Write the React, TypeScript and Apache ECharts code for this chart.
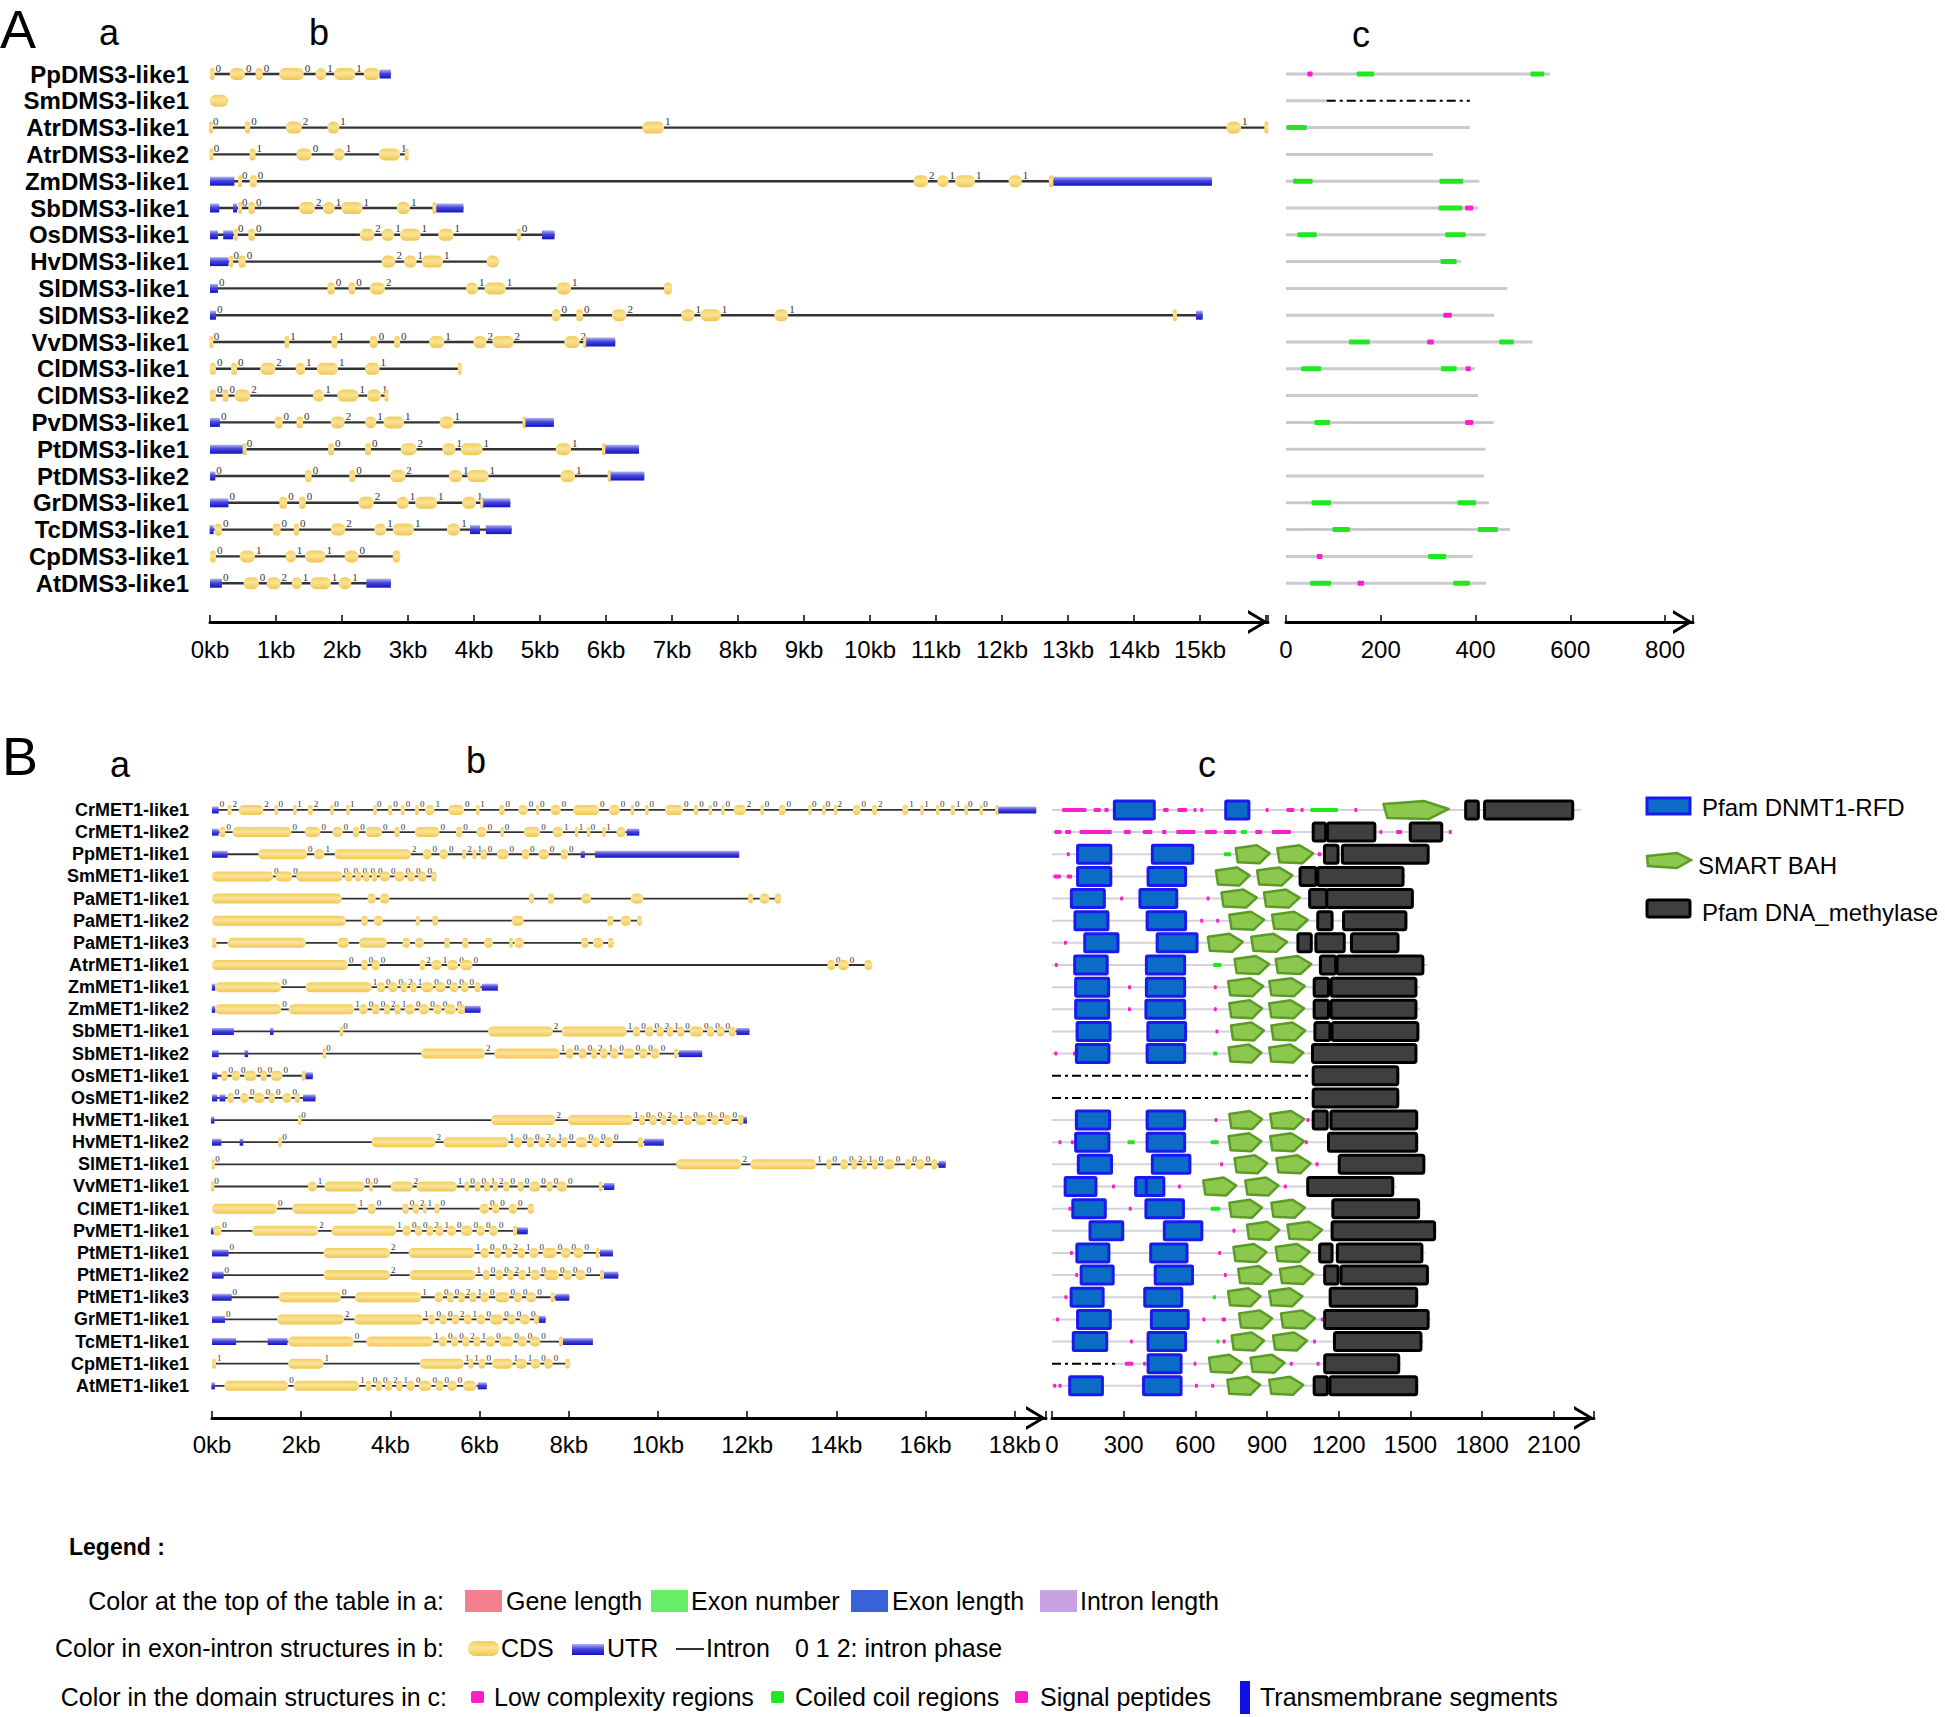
import React, { useEffect, useRef } from 'react';
import * as echarts from 'echarts';

const FONT = 'Liberation Sans, Arial, sans-serif';

// ---------- Panel A : DMS3 ----------
const dmsNames = ['PpDMS3-like1','SmDMS3-like1','AtrDMS3-like1','AtrDMS3-like2','ZmDMS3-like1','SbDMS3-like1','OsDMS3-like1','HvDMS3-like1','SlDMS3-like1','SlDMS3-like2','VvDMS3-like1','ClDMS3-like1','ClDMS3-like2','PvDMS3-like1','PtDMS3-like1','PtDMS3-like2','GrDMS3-like1','TcDMS3-like1','CpDMS3-like1','AtDMS3-like1'];

// exon: [start kb, end kb, type (0 CDS, 1 UTR), intron phase after it (-1 none)]
const dmsExons: number[][][] = [
  [[0,0.07,0,0],[0.30,0.53,0,0],[0.69,0.80,0,0],[1.05,1.42,0,0],[1.60,1.76,0,1],[1.88,2.20,0,1],[2.33,2.57,0,-1],[2.57,2.74,1,-1]],
  [[0,0.27,0,-1]],
  [[0,0.03,0,0],[0.53,0.61,0,0],[1.15,1.39,0,2],[1.78,1.96,0,1],[6.55,6.88,0,1],[15.40,15.62,0,1],[15.98,16.03,0,-1]],
  [[0,0.04,0,0],[0.60,0.69,0,1],[1.31,1.54,0,0],[1.87,2.04,0,1],[2.56,2.88,0,1],[2.96,3.0,0,-1]],
  [[0,0.37,1,-1],[0.44,0.47,0,0],[0.60,0.71,0,0],[10.66,10.88,0,2],[11.02,11.19,0,1],[11.29,11.59,0,1],[12.10,12.30,0,1],[12.71,12.78,0,-1],[12.78,15.18,1,-1]],
  [[0,0.14,1,-1],[0.35,0.41,1,-1],[0.44,0.47,0,0],[0.58,0.68,0,0],[1.35,1.59,0,2],[1.71,1.89,0,1],[1.99,2.31,0,1],[2.83,3.03,0,1],[3.37,3.43,0,-1],[3.43,3.84,1,-1]],
  [[0,0.12,1,-1],[0.20,0.35,1,-1],[0.37,0.41,0,0],[0.58,0.68,0,0],[2.27,2.49,0,2],[2.60,2.79,0,1],[2.88,3.19,0,1],[3.46,3.69,0,1],[4.65,4.71,0,0],[5.03,5.22,1,-1]],
  [[0,0.28,1,-1],[0.30,0.34,0,0],[0.43,0.54,0,0],[2.60,2.81,0,2],[2.94,3.13,0,1],[3.21,3.53,0,1],[4.19,4.38,0,-1]],
  [[0,0.12,1,0],[1.78,1.89,0,0],[2.10,2.20,0,0],[2.42,2.65,0,2],[3.88,4.06,0,1],[4.16,4.48,0,1],[5.25,5.47,0,1],[6.88,7.0,0,-1]],
  [[0,0.09,1,0],[5.18,5.31,0,0],[5.55,5.65,0,0],[6.09,6.31,0,2],[7.14,7.34,0,1],[7.43,7.74,0,1],[8.55,8.76,0,1],[14.60,14.64,0,-1],[14.94,15.04,1,-1]],
  [[0,0.04,0,0],[1.13,1.20,0,1],[1.84,1.93,0,1],[2.42,2.54,0,0],[2.79,2.88,0,0],[3.32,3.55,0,1],[3.99,4.19,0,2],[4.28,4.60,0,2],[5.37,5.60,0,2],[5.67,5.70,0,-1],[5.70,6.14,1,-1]],
  [[0,0.09,0,0],[0.32,0.41,0,0],[0.76,0.99,0,2],[1.30,1.44,0,1],[1.62,1.94,0,1],[2.35,2.57,0,1],[3.77,3.80,0,-1]],
  [[0,0.09,0,0],[0.19,0.28,0,0],[0.37,0.61,0,2],[1.56,1.73,0,1],[1.93,2.25,0,1],[2.38,2.59,0,1],[2.66,2.69,0,-1]],
  [[0,0.15,1,0],[0.98,1.10,0,0],[1.31,1.41,0,0],[1.83,2.04,0,2],[2.35,2.52,0,1],[2.63,2.94,0,1],[3.48,3.69,0,1],[4.75,4.78,0,-1],[4.78,5.21,1,-1]],
  [[0,0.51,1,-1],[0.51,0.54,0,0],[1.79,1.88,0,0],[2.35,2.44,0,0],[2.89,3.13,0,2],[3.52,3.72,0,1],[3.80,4.13,0,1],[5.24,5.47,0,1],[5.95,5.99,0,-1],[5.99,6.50,1,-1]],
  [[0,0.08,1,0],[1.44,1.54,0,0],[2.11,2.20,0,0],[2.73,2.96,0,2],[3.62,3.82,0,1],[3.90,4.22,0,1],[5.31,5.53,0,1],[6.04,6.07,0,-1],[6.07,6.58,1,-1]],
  [[0,0.28,1,0],[1.05,1.17,0,0],[1.35,1.45,0,0],[2.25,2.48,0,2],[2.83,3.01,0,1],[3.11,3.44,0,1],[3.82,4.03,0,1],[4.11,4.14,0,-1],[4.14,4.55,1,-1]],
  [[0,0.05,1,-1],[0.07,0.18,0,0],[0.95,1.07,0,0],[1.27,1.35,0,0],[1.83,2.05,0,2],[2.49,2.67,0,1],[2.77,3.09,0,1],[3.59,3.79,0,1],[3.94,4.09,1,-1],[4.18,4.57,1,-1]],
  [[0,0.09,0,0],[0.45,0.68,0,1],[1.15,1.30,0,1],[1.44,1.75,0,1],[2.04,2.25,0,0],[2.77,2.88,0,-1]],
  [[0,0.18,1,0],[0.51,0.74,0,0],[0.86,1.07,0,2],[1.24,1.39,0,1],[1.52,1.83,0,1],[1.95,2.14,0,1],[2.37,2.74,1,-1]],
];

const dmsProteinLength = [557,86,388,310,408,406,421,369,467,439,520,399,405,438,421,418,428,473,394,422];

// domain: [start aa, end aa, type (0 low complexity, 1 coiled coil, 2 missing)]
const dmsDomains: number[][][] = [
  [[45,56,0],[149,186,1],[516,545,1]],
  [[86,388,2]],
  [[1,44,1]],
  [],
  [[15,56,1],[324,374,1]],
  [[322,372,1],[378,395,0]],
  [[24,65,1],[336,379,1]],
  [[326,360,1]],
  [],
  [[332,350,0]],
  [[133,177,1],[298,312,0],[450,481,1]],
  [[32,74,1],[327,360,1],[379,390,0]],
  [],
  [[60,93,1],[378,395,0]],
  [],
  [],
  [[54,95,1],[362,401,1]],
  [[98,135,1],[405,447,1]],
  [[65,77,0],[300,338,1]],
  [[51,95,1],[151,165,0],[353,388,1]],
];

// ---------- Panel B : MET1 ----------
const metNames = ['CrMET1-like1','CrMET1-like2','PpMET1-like1','SmMET1-like1','PaMET1-like1','PaMET1-like2','PaMET1-like3','AtrMET1-like1','ZmMET1-like1','ZmMET1-like2','SbMET1-like1','SbMET1-like2','OsMET1-like1','OsMET1-like2','HvMET1-like1','HvMET1-like2','SlMET1-like1','VvMET1-like1','ClMET1-like1','PvMET1-like1','PtMET1-like1','PtMET1-like2','PtMET1-like3','GrMET1-like1','TcMET1-like1','CpMET1-like1','AtMET1-like1'];

const metExons: number[][][] = [
  [[0,0.15,1,0],[0.35,0.44,0,2],[0.60,1.15,0,2],[1.41,1.47,0,0],[1.83,1.89,0,1],[2.15,2.26,0,2],[2.66,2.72,0,0],[3.03,3.07,0,1],[3.63,3.68,0,0],[3.95,4.04,0,0],[4.23,4.32,0,0],[4.55,4.64,0,0],[4.78,4.99,0,1],[5.30,5.65,0,0],[5.93,5.99,0,1],[6.44,6.56,0,0],[6.87,7.08,0,0],[7.27,7.33,0,0],[7.59,7.82,0,0],[8.10,8.68,0,0],[8.90,9.14,0,0],[9.39,9.46,0,0],[9.71,9.79,0,0],[10.16,10.56,0,0],[10.80,10.90,0,0],[11.14,11.21,0,0],[11.42,11.49,0,0],[11.70,11.97,0,2],[12.30,12.37,0,0],[12.71,12.86,0,0],[13.39,13.43,0,0],[13.70,13.74,0,0],[13.96,14.00,0,2],[14.37,14.54,0,0],[14.80,14.91,0,2],[15.48,15.61,0,1],[15.89,15.95,0,1],[16.24,16.30,0,0],[16.56,16.66,0,1],[16.89,16.93,0,0],[17.23,17.27,0,0],[17.57,17.63,0,-1],[17.63,18.48,1,-1]],
  [[0,0.15,1,-1],[0.17,0.30,0,0],[0.46,1.78,0,0],[2.08,2.43,0,0],[2.70,2.93,0,0],[3.16,3.30,0,0],[3.44,3.81,0,0],[4.09,4.21,0,0],[4.55,5.10,0,0],[5.47,5.61,0,0],[5.93,6.16,0,0],[6.47,6.54,0,0],[6.99,7.36,0,0],[7.64,7.87,0,1],[8.15,8.20,0,1],[8.42,8.47,0,0],[8.76,8.82,0,1],[9.07,9.27,0,-1],[9.30,9.58,1,-1]],
  [[0,0.35,1,-1],[1.04,2.13,0,0],[2.29,2.52,0,1],[2.75,4.46,0,2],[4.73,4.92,0,0],[5.10,5.29,0,0],[5.61,5.70,0,2],[5.84,5.93,0,1],[6.02,6.16,0,0],[6.39,6.65,0,0],[6.95,7.11,0,0],[7.32,7.55,0,0],[7.82,7.98,0,0],[8.27,8.36,1,-1],[8.59,11.82,1,-1]],
  [[0,1.37,0,0],[1.43,1.80,0,0],[1.89,2.93,0,0],[2.98,3.15,0,0],[3.21,3.35,0,0],[3.39,3.53,0,0],[3.58,3.70,0,0],[3.76,3.99,0,0],[4.09,4.32,0,0],[4.38,4.55,0,0],[4.62,4.81,0,0],[4.92,5.03,0,-1]],
  [[0,2.91,0,-1],[3.49,3.67,0,-1],[3.76,3.98,0,-1],[7.11,7.22,0,-1],[7.53,7.67,0,-1],[8.28,8.50,0,-1],[9.39,9.67,0,-1],[12.02,12.13,0,-1],[12.28,12.50,0,-1],[12.62,12.76,0,-1]],
  [[0,3.0,0,-1],[3.35,3.49,0,-1],[3.63,3.83,0,-1],[4.57,4.66,0,-1],[4.94,5.07,0,-1],[6.72,6.99,0,-1],[8.86,9.00,0,-1],[9.16,9.39,0,-1],[9.53,9.64,0,-1]],
  [[0,0.10,0,-1],[0.35,2.10,0,-1],[2.81,3.07,0,-1],[3.30,3.92,0,-1],[4.27,4.44,0,-1],[4.55,4.75,0,-1],[5.21,5.33,0,-1],[5.61,5.75,0,-1],[6.10,6.30,0,-1],[6.67,6.74,0,-1],[6.78,6.99,0,-1],[8.28,8.44,0,-1],[8.54,8.77,0,-1],[8.88,9.00,0,-1]],
  [[0,3.05,0,0],[3.35,3.49,0,0],[3.58,3.76,0,0],[4.66,4.78,0,2],[4.92,5.15,0,1],[5.27,5.52,0,0],[5.56,5.84,0,0],[13.80,13.97,0,0],[14.04,14.28,0,0],[14.63,14.80,0,-1]],
  [[0,0.07,1,-1],[0.07,1.55,0,0],[2.10,3.58,0,1],[3.70,3.88,0,0],[3.95,4.16,0,0],[4.23,4.38,0,2],[4.44,4.59,0,1],[4.69,4.96,0,0],[5.01,5.24,0,0],[5.33,5.52,0,0],[5.58,5.75,0,0],[5.89,6.02,0,-1],[6.05,6.41,1,-1]],
  [[0,0.07,1,-1],[0.07,1.55,0,0],[1.72,3.19,0,1],[3.30,3.49,0,0],[3.58,3.76,0,0],[3.86,3.99,0,2],[4.09,4.23,0,1],[4.32,4.55,0,0],[4.64,4.87,0,0],[4.96,5.15,0,0],[5.21,5.47,0,0],[5.50,5.67,0,-1],[5.67,6.02,1,-1]],
  [[0,0.49,1,-1],[1.30,1.38,1,-1],[2.89,2.92,0,0],[6.19,7.64,0,2],[7.84,9.30,0,1],[9.44,9.60,0,0],[9.71,9.90,0,0],[9.97,10.13,0,2],[10.20,10.34,0,1],[10.43,10.59,0,0],[10.71,11.01,0,0],[11.10,11.26,0,0],[11.32,11.49,0,0],[11.59,11.74,0,-1],[11.76,12.05,1,-1]],
  [[0,0.15,1,-1],[0.75,0.79,1,-1],[2.50,2.54,0,0],[4.69,6.12,0,2],[6.33,7.80,0,1],[7.94,8.10,0,0],[8.22,8.40,0,0],[8.50,8.63,0,2],[8.70,8.87,0,1],[8.93,9.11,0,0],[9.21,9.48,0,0],[9.58,9.76,0,0],[9.83,10.04,0,0],[10.36,10.45,0,-1],[10.47,10.99,1,-1]],
  [[0,0.12,1,-1],[0.21,0.35,0,0],[0.44,0.63,0,0],[0.72,1.00,0,0],[1.09,1.23,0,0],[1.32,1.58,0,0],[2.01,2.10,0,-1],[2.10,2.26,1,-1]],
  [[0,0.12,1,-1],[0.17,0.30,1,-1],[0.35,0.49,0,0],[0.63,0.83,0,0],[0.93,1.18,0,0],[1.27,1.41,0,0],[1.58,1.78,0,0],[1.86,1.97,0,-1],[2.04,2.32,1,-1]],
  [[0,0.03,1,-1],[1.95,1.98,0,0],[6.26,7.70,0,2],[7.98,9.44,0,1],[9.58,9.71,0,0],[9.81,9.97,0,0],[10.06,10.19,0,2],[10.29,10.45,0,1],[10.56,10.77,0,0],[10.84,11.10,0,0],[11.19,11.36,0,0],[11.45,11.65,0,0],[11.79,11.93,0,-1],[11.93,11.98,1,-1]],
  [[0,0.21,1,-1],[0.63,0.69,1,-1],[1.50,1.55,0,0],[3.58,5.01,0,2],[5.19,6.65,0,1],[6.76,6.95,0,0],[7.06,7.22,0,0],[7.32,7.48,0,2],[7.55,7.73,0,1],[7.82,7.98,0,0],[8.15,8.42,0,0],[8.51,8.70,0,0],[8.79,8.99,0,0],[9.55,9.67,0,-1],[9.69,10.13,1,-1]],
  [[0,0.05,0,0],[10.41,11.87,0,2],[12.07,13.55,0,1],[13.78,13.89,0,0],[14.09,14.26,0,0],[14.34,14.46,0,2],[14.57,14.69,0,1],[14.80,14.93,0,0],[15.06,15.31,0,0],[15.54,15.68,0,0],[15.77,15.98,0,0],[16.13,16.26,0,-1],[16.29,16.45,1,-1]],
  [[0,0.03,0,0],[2.15,2.35,0,1],[2.52,3.42,0,0],[3.53,3.60,0,0],[4.01,4.50,0,2],[4.59,5.49,0,1],[5.66,5.77,0,0],[5.89,6.02,0,0],[6.10,6.23,0,1],[6.30,6.41,0,2],[6.53,6.67,0,0],[6.85,6.99,0,0],[7.11,7.36,0,0],[7.50,7.64,0,0],[7.73,7.96,0,0],[8.68,8.75,0,-1],[8.79,9.02,1,-1]],
  [[0,1.46,0,0],[1.80,3.27,0,1],[3.49,3.67,0,0],[4.27,4.41,0,0],[4.50,4.64,0,2],[4.73,4.81,0,1],[4.99,5.10,0,0],[6.00,6.21,0,0],[6.28,6.44,0,0],[6.65,6.84,0,0],[7.08,7.22,0,-1]],
  [[0,0.03,1,-1],[0.03,0.21,0,0],[0.90,2.38,0,2],[2.68,4.13,0,1],[4.27,4.46,0,0],[4.55,4.71,0,0],[4.81,4.96,0,2],[5.01,5.19,0,1],[5.27,5.47,0,0],[5.58,5.84,0,0],[5.93,6.12,0,0],[6.21,6.41,0,0],[6.75,6.84,0,-1],[6.84,7.08,1,-1]],
  [[0,0.37,1,0],[2.50,3.99,0,2],[4.41,5.89,0,1],[6.02,6.21,0,0],[6.32,6.49,0,0],[6.58,6.74,0,2],[6.85,7.02,0,1],[7.11,7.32,0,0],[7.41,7.73,0,0],[7.82,8.04,0,0],[8.10,8.33,0,0],[8.61,8.68,0,-1],[8.70,8.99,1,-1]],
  [[0,0.26,1,0],[2.50,3.99,0,2],[4.43,5.91,0,1],[6.07,6.23,0,0],[6.35,6.53,0,0],[6.62,6.76,0,2],[6.87,7.04,0,1],[7.13,7.36,0,0],[7.45,7.78,0,0],[7.87,8.07,0,0],[8.15,8.38,0,0],[8.70,8.79,0,-1],[8.79,9.11,1,-1]],
  [[0,0.44,1,0],[1.50,2.89,0,0],[3.21,4.69,0,1],[4.99,5.18,0,0],[5.27,5.42,0,0],[5.52,5.67,0,2],[5.77,5.93,0,1],[6.02,6.21,0,0],[6.35,6.67,0,0],[6.76,6.95,0,0],[7.04,7.27,0,0],[7.59,7.68,0,-1],[7.70,8.01,1,-1]],
  [[0,0.29,1,0],[1.46,2.96,0,2],[3.19,4.73,0,1],[4.84,5.01,0,0],[5.10,5.27,0,0],[5.38,5.54,0,2],[5.65,5.82,0,1],[5.93,6.13,0,0],[6.23,6.53,0,0],[6.62,6.81,0,0],[6.90,7.13,0,0],[7.22,7.33,0,-1],[7.33,7.48,1,-1]],
  [[0,0.54,1,-1],[1.25,1.69,1,-1],[1.71,3.18,0,0],[3.46,4.96,0,1],[5.08,5.27,0,0],[5.36,5.52,0,0],[5.61,5.77,0,2],[5.86,6.02,0,1],[6.13,6.35,0,0],[6.44,6.76,0,0],[6.85,7.06,0,0],[7.13,7.36,0,0],[7.78,7.87,0,-1],[7.87,8.54,1,-1]],
  [[0,0.09,0,1],[1.71,2.50,0,1],[4.66,5.65,0,1],[5.75,5.86,0,1],[5.98,6.13,0,0],[6.28,6.74,0,1],[6.81,7.06,0,1],[7.15,7.36,0,0],[7.45,7.64,0,0],[7.92,8.03,0,-1]],
  [[0,0.05,1,-1],[0.28,1.71,0,0],[1.83,3.30,0,1],[3.44,3.58,0,0],[3.67,3.81,0,0],[3.88,4.04,0,2],[4.13,4.27,0,1],[4.36,4.55,0,0],[4.64,4.92,0,0],[5.01,5.19,0,0],[5.28,5.49,0,0],[5.63,5.93,0,-1],[5.96,6.16,1,-1]],
];

const metProteinLength = [2213,1668,1580,1480,1515,1490,1455,1570,1540,1540,1540,1530,1455,1455,1535,1535,1560,1440,1545,1610,1560,1580,1535,1585,1555,1460,1535];

// domain types: 0 low complexity, 1 coiled coil, 2 missing, 3 DNMT1-RFD, 4 BAH, 5 DNA_methylase
const metDomains: number[][][] = [
  [[42,144,0],[174,204,0],[219,237,0],[261,428,3],[465,488,0],[525,565,0],[592,600,0],[620,628,0],[727,824,3],[894,903,0],[981,1014,0],[1040,1048,0],[1081,1197,1],[1265,1275,0],[1387,1660,4],[1731,1784,5],[1810,2179,5]],
  [[10,40,0],[55,80,0],[115,250,0],[300,330,0],[380,420,0],[460,480,0],[520,600,0],[640,690,0],[720,770,0],[790,815,1],[850,880,0],[920,1000,0],[1093,1145,5],[1153,1351,5],[1370,1382,0],[1440,1465,0],[1499,1631,5],[1660,1668,0]],
  [[62,72,0],[107,246,3],[420,589,3],[719,749,1],[769,911,4],[943,1093,4],[1112,1127,0],[1140,1197,5],[1215,1574,5]],
  [[7,37,0],[62,84,0],[107,246,3],[402,559,3],[686,827,4],[858,1006,4],[1038,1105,5],[1112,1469,5]],
  [[81,219,3],[285,295,0],[368,522,3],[647,657,0],[709,857,4],[887,1036,4],[1078,1150,5],[1150,1508,5]],
  [[96,234,3],[398,559,3],[620,630,0],[687,697,0],[742,888,4],[921,1070,4],[1112,1172,5],[1220,1481,5]],
  [[50,60,0],[137,276,3],[440,607,3],[652,798,4],[834,984,4],[1029,1085,5],[1104,1223,5],[1253,1448,5]],
  [[12,22,0],[95,231,3],[395,555,3],[674,709,1],[764,909,4],[936,1085,4],[1123,1187,5],[1193,1552,5]],
  [[99,237,3],[318,328,0],[395,555,3],[677,687,0],[737,884,4],[909,1058,4],[1097,1157,5],[1168,1523,5]],
  [[99,237,3],[318,328,0],[393,555,3],[677,687,0],[742,879,4],[909,1055,4],[1097,1157,5],[1168,1523,5]],
  [[105,243,3],[401,559,3],[684,694,0],[749,887,4],[918,1060,4],[1100,1163,5],[1172,1531,5]],
  [[10,18,0],[88,96,0],[102,238,3],[398,555,3],[674,692,1],[739,876,4],[909,1051,4],[1090,1523,5]],
  [[0,1085,2],[1093,1447,5]],
  [[0,1085,2],[1093,1447,5]],
  [[102,241,3],[398,555,3],[680,690,0],[742,879,4],[913,1055,4],[1065,1075,0],[1093,1152,5],[1167,1526,5]],
  [[27,37,0],[79,89,0],[99,238,3],[316,346,1],[398,555,3],[664,697,1],[739,876,4],[913,1055,4],[1058,1068,0],[1157,1526,5]],
  [[110,249,3],[420,577,3],[703,715,0],[764,901,4],[939,1082,4],[1103,1113,0],[1202,1556,5]],
  [[55,184,3],[251,261,0],[350,395,3],[395,468,3],[527,537,0],[633,771,4],[809,948,4],[970,980,0],[1070,1426,5]],
  [[69,79,0],[87,223,3],[321,331,0],[393,550,3],[664,704,1],[742,879,4],[918,1058,4],[1175,1534,5]],
  [[159,296,3],[470,627,3],[755,767,0],[816,951,4],[985,1130,4],[1172,1601,5]],
  [[75,85,0],[104,238,3],[413,565,3],[695,705,0],[759,898,4],[936,1078,4],[1120,1172,5],[1194,1548,5]],
  [[97,107,0],[122,256,3],[432,588,3],[719,729,0],[779,918,4],[954,1093,4],[1141,1197,5],[1209,1571,5]],
  [[52,62,0],[80,214,3],[388,543,3],[673,686,1],[737,873,4],[909,1048,4],[1164,1526,5]],
  [[17,27,0],[107,244,3],[416,570,3],[629,639,0],[710,728,0],[783,921,4],[958,1100,4],[1125,1135,0],[1141,1574,5]],
  [[89,229,3],[326,336,0],[402,559,3],[688,700,1],[714,724,0],[752,887,4],[925,1067,4],[1092,1102,0],[1182,1544,5]],
  [[0,264,2],[305,340,0],[381,391,0],[402,540,3],[592,602,0],[657,794,4],[831,973,4],[995,1005,0],[1107,1117,0],[1141,1451,5]],
  [[5,15,0],[27,37,0],[74,211,3],[383,540,3],[598,608,0],[666,676,0],[734,871,4],[909,1051,4],[1097,1152,5],[1163,1526,5]],
];

// axis tick labels
const dmsGeneTicks = ['0kb','1kb','2kb','3kb','4kb','5kb','6kb','7kb','8kb','9kb','10kb','11kb','12kb','13kb','14kb','15kb'];
const dmsDomainTicks = ['0','200','400','600','800'];
const metGeneTicks = ['0kb','2kb','4kb','6kb','8kb','10kb','12kb','14kb','16kb','18kb'];
const metDomainTicks = ['0','300','600','900','1200','1500','1800','2100'];

// ---------- helpers ----------
const CHEVRON = 'path://M0,20 L12,0 L24,20 L20.5,20 L12,5.5 L3.5,20 Z';

const cdsFill = { type: 'linear', x: 0, y: 0, x2: 0, y2: 1, colorStops: [
  { offset: 0, color: '#f3cd5a' }, { offset: 0.45, color: '#fae39a' }, { offset: 1, color: '#f0c64c' } ] };
const utrFill = { type: 'linear', x: 0, y: 0, x2: 0, y2: 1, colorStops: [
  { offset: 0, color: '#b4b4f4' }, { offset: 0.45, color: '#4646dc' }, { offset: 1, color: '#1212c4' } ] };

function exonData(exons: number[][][]) {
  const out: number[][] = [];
  exons.forEach((g, row) => g.forEach((e) => out.push([row, e[0], e[1], e[2], e[3]])));
  return out;
}
function spanData(exons: number[][][]) {
  return exons.map((g, row) => [row, Math.min(...g.map((e) => e[0])), Math.max(...g.map((e) => e[1]))]);
}
function domainData(domains: number[][][]) {
  const out: number[][] = [];
  domains.forEach((g, row) => g.forEach((d) => out.push([row, d[0], d[1], d[2]])));
  return out;
}
function lineData(lengths: number[], domains: number[][][]) {
  return lengths.map((len, row) => {
    let start = 0;
    domains[row].forEach((d) => { if (d[2] === 2 && d[0] < 10) start = Math.max(start, d[1]); });
    return [row, start, len];
  });
}

function xAxisCfg(gridIndex: number, max: number, step: number, labels: string[], offset: number) {
  return {
    type: 'value', gridIndex, min: 0, max, interval: step, offset,
    axisLine: { show: true, onZero: false, lineStyle: { color: '#000', width: 3 },
      symbol: ['none', CHEVRON], symbolSize: [24, 20], symbolOffset: [0, -10] },
    axisTick: { show: true, inside: true, length: 7, lineStyle: { color: '#000', width: 1.5 } },
    axisLabel: { show: true, color: '#000', fontSize: 24, fontFamily: FONT, margin: 15,
      formatter: (v: number) => {
        const i = Math.round(v / step);
        return Math.abs(i * step - v) < 1e-6 && i < labels.length ? labels[i] : '';
      } },
    splitLine: { show: false },
  };
}
function yAxisCfg(gridIndex: number, names: string[], showLabel: boolean, fontSize: number, margin: number) {
  return {
    type: 'category', gridIndex, data: names, inverse: true,
    axisLine: { show: false }, axisTick: { show: false }, splitLine: { show: false },
    axisLabel: { show: showLabel, interval: 0, color: '#000', fontWeight: 'bold', fontSize, fontFamily: FONT, margin },
  };
}

function intronRender(width: number) {
  return (params: any, api: any) => {
    const a = api.coord([api.value(1), api.value(0)]);
    const b = api.coord([api.value(2), api.value(0)]);
    return { type: 'line', shape: { x1: a[0], y1: a[1], x2: b[0], y2: b[1] }, style: { stroke: '#333', lineWidth: width } };
  };
}
function exonRender(cdsH: number, utrH: number, minW: number, phaseSize: number) {
  return (params: any, api: any) => {
    const row = api.value(0), t = api.value(3), p = api.value(4);
    const a = api.coord([api.value(1), row]);
    const b = api.coord([api.value(2), row]);
    const raw = b[0] - a[0];
    const w = Math.max(raw, minW);
    const x = raw < minW ? (a[0] + b[0]) / 2 - minW / 2 : a[0];
    const h = t === 0 ? cdsH : utrH;
    const children: any[] = [{
      type: 'rect',
      shape: { x, y: a[1] - h / 2, width: w, height: h, r: t === 0 ? Math.min(h * 0.45, w / 2) : 0 },
      style: { fill: t === 0 ? cdsFill : utrFill },
    }];
    if (p >= 0) {
      children.push({ type: 'text', x: b[0] + 1, y: a[1] - 1,
        style: { text: String(p), fontSize: phaseSize, fontFamily: 'Liberation Serif, serif', fill: '#333', align: 'left', verticalAlign: 'bottom' } });
    }
    return { type: 'group', children };
  };
}
function proteinLineRender(color: string, width: number) {
  return (params: any, api: any) => {
    const a = api.coord([api.value(1), api.value(0)]);
    const b = api.coord([api.value(2), api.value(0)]);
    return { type: 'line', shape: { x1: a[0], y1: a[1], x2: b[0], y2: b[1] }, style: { stroke: color, lineWidth: width } };
  };
}
function domainRender(smallH: number, boxH: number) {
  return (params: any, api: any) => {
    const row = api.value(0), t = api.value(3);
    const a = api.coord([api.value(1), row]);
    const b = api.coord([api.value(2), row]);
    const y = a[1];
    const w = Math.max(b[0] - a[0], 3);
    if (t === 0 || t === 1) {
      return { type: 'rect', shape: { x: a[0], y: y - smallH / 2, width: w, height: smallH, r: 1 },
        style: { fill: t === 0 ? '#ff1ecc' : '#1ee81e' } };
    }
    if (t === 2) {
      return { type: 'line', shape: { x1: a[0], y1: y, x2: b[0], y2: y },
        style: { stroke: '#000', lineWidth: 2, lineDash: [9, 4, 3, 4] } };
    }
    if (t === 3) {
      return { type: 'rect', shape: { x: a[0], y: y - boxH / 2, width: w, height: boxH, r: 1 },
        style: { fill: '#0b6cc6', stroke: '#1a1af0', lineWidth: 3 } };
    }
    if (t === 4) {
      const x0 = a[0], x1 = b[0], hw = boxH / 2;
      return { type: 'polygon', shape: { points: [
        [x0, y - hw + 3], [x0 + w * 0.62, y - hw], [x1, y - 1], [x0 + w * 0.7, y + hw], [x0 + w * 0.06, y + hw - 1] ] },
        style: { fill: '#8cc84e', stroke: '#5c9c26', lineWidth: 2.5, lineJoin: 'round' } };
    }
    return { type: 'rect', shape: { x: a[0], y: y - boxH / 2, width: w, height: boxH, r: 2 },
      style: { fill: '#3f3f3f', stroke: '#000', lineWidth: 3 } };
  };
}

function txt(text: string, x: number, y: number, size: number, extra: any = {}) {
  return { type: 'text', x, y, style: { text, fontSize: size, fontFamily: FONT, fill: '#000', align: 'left', verticalAlign: 'middle', ...extra } };
}

export default function App() {
  const ref = useRef<HTMLDivElement>(null);
  useEffect(() => {
    if (!ref.current) return;
    const chart = echarts.init(ref.current, undefined, { renderer: 'svg' });
    const L = 25;

    const graphic: any[] = [
      txt('A', 0, 29, 54),
      txt('a', 109, 32, 36, { align: 'center' }),
      txt('b', 319, 32, 36, { align: 'center' }),
      txt('c', 1361, 34, 36, { align: 'center' }),
      txt('B', 2, 756, 54),
      txt('a', 120, 764, 36, { align: 'center' }),
      txt('b', 476, 760, 36, { align: 'center' }),
      txt('c', 1207, 764, 36, { align: 'center' }),
      // right legend of panel B
      { type: 'rect', shape: { x: 1647, y: 798, width: 43, height: 16 }, style: { fill: '#0b6cc6', stroke: '#1a1af0', lineWidth: 3 } },
      txt('Pfam DNMT1-RFD', 1702, 807, 24),
      { type: 'polygon', shape: { points: [[1647, 856], [1677, 853], [1691, 860], [1677, 868], [1648, 866]] }, style: { fill: '#8cc84e', stroke: '#5c9c26', lineWidth: 2.5 } },
      txt('SMART BAH', 1698, 865, 24),
      { type: 'rect', shape: { x: 1647, y: 900, width: 43, height: 17, r: 2 }, style: { fill: '#3f3f3f', stroke: '#000', lineWidth: 3 } },
      txt('Pfam DNA_methylase', 1702, 912, 24),
      // bottom legend
      txt('Legend :', 69, 1547, 23, { fontWeight: 'bold' }),
      txt('Color at the top of the table in a:', 444, 1601, L, { align: 'right' }),
      { type: 'rect', shape: { x: 465, y: 1590, width: 37, height: 22 }, style: { fill: '#f4808f' } },
      txt('Gene length', 506, 1601, L),
      { type: 'rect', shape: { x: 651, y: 1590, width: 37, height: 22 }, style: { fill: '#66ee66' } },
      txt('Exon number', 691, 1601, L),
      { type: 'rect', shape: { x: 851, y: 1590, width: 37, height: 22 }, style: { fill: '#3a62d8' } },
      txt('Exon length', 892, 1601, L),
      { type: 'rect', shape: { x: 1040, y: 1590, width: 37, height: 22 }, style: { fill: '#c8a2e2' } },
      txt('Intron length', 1080, 1601, L),
      txt('Color in exon-intron structures in b:', 444, 1648, L, { align: 'right' }),
      { type: 'rect', shape: { x: 468, y: 1641, width: 31, height: 15, r: 7 }, style: { fill: cdsFill } },
      txt('CDS', 501, 1648, L),
      { type: 'rect', shape: { x: 572, y: 1644, width: 32, height: 11 }, style: { fill: utrFill } },
      txt('UTR', 607, 1648, L),
      { type: 'line', shape: { x1: 676, y1: 1649, x2: 704, y2: 1649 }, style: { stroke: '#333', lineWidth: 2 } },
      txt('Intron', 706, 1648, L),
      txt('0 1 2: intron phase', 795, 1648, L),
      txt('Color in the domain structures in c:', 447, 1697, L, { align: 'right' }),
      { type: 'rect', shape: { x: 471, y: 1691, width: 13, height: 12, r: 2 }, style: { fill: '#ff1ecc' } },
      txt('Low complexity regions', 494, 1697, L),
      { type: 'rect', shape: { x: 771, y: 1691, width: 13, height: 12, r: 2 }, style: { fill: '#1ee81e' } },
      txt('Coiled coil regions', 795, 1697, L),
      { type: 'rect', shape: { x: 1015, y: 1691, width: 13, height: 12, r: 2 }, style: { fill: '#ff1ecc' } },
      txt('Signal peptides', 1040, 1697, L),
      { type: 'rect', shape: { x: 1240, y: 1681, width: 10, height: 33 }, style: { fill: '#1010e8' } },
      txt('Transmembrane segments', 1260, 1697, L),
    ];

    const option: any = {
      animation: false,
      backgroundColor: '#fff',
      grid: [
        { left: 210, top: 60.6, width: 1058, height: 536, containLabel: false, outerBoundsMode: 'none' },
        { left: 1286, top: 60.6, width: 407, height: 536, containLabel: false, outerBoundsMode: 'none' },
        { left: 212, top: 798.9, width: 834, height: 598, containLabel: false, outerBoundsMode: 'none' },
        { left: 1052, top: 798.9, width: 542, height: 598, containLabel: false, outerBoundsMode: 'none' },
      ],
      xAxis: [
        xAxisCfg(0, 16.03, 1, dmsGeneTicks, 25.4),
        xAxisCfg(1, 859, 200, dmsDomainTicks, 25.4),
        xAxisCfg(2, 18.7, 2, metGeneTicks, 21),
        xAxisCfg(3, 2268, 300, metDomainTicks, 21),
      ],
      yAxis: [
        yAxisCfg(0, dmsNames, true, 24, 21),
        yAxisCfg(1, dmsNames, false, 24, 21),
        yAxisCfg(2, metNames, true, 18, 23),
        yAxisCfg(3, metNames, false, 18, 23),
      ],
      series: [
        { type: 'custom', xAxisIndex: 0, yAxisIndex: 0, data: spanData(dmsExons), encode: { x: [1, 2], y: 0 }, renderItem: intronRender(2.4), z: 1 },
        { type: 'custom', xAxisIndex: 0, yAxisIndex: 0, data: exonData(dmsExons), encode: { x: [1, 2], y: 0 }, renderItem: exonRender(12, 9, 4, 11), z: 2 },
        { type: 'custom', xAxisIndex: 1, yAxisIndex: 1, data: lineData(dmsProteinLength, dmsDomains), encode: { x: [1, 2], y: 0 }, renderItem: proteinLineRender('#c9c9cf', 3), z: 1 },
        { type: 'custom', xAxisIndex: 1, yAxisIndex: 1, data: domainData(dmsDomains), encode: { x: [1, 2], y: 0 }, renderItem: domainRender(5, 18), z: 2 },
        { type: 'custom', xAxisIndex: 2, yAxisIndex: 2, data: spanData(metExons), encode: { x: [1, 2], y: 0 }, renderItem: intronRender(1.8), z: 1 },
        { type: 'custom', xAxisIndex: 2, yAxisIndex: 2, data: exonData(metExons), encode: { x: [1, 2], y: 0 }, renderItem: exonRender(10, 7, 3.5, 9), z: 2 },
        { type: 'custom', xAxisIndex: 3, yAxisIndex: 3, data: lineData(metProteinLength, metDomains), encode: { x: [1, 2], y: 0 }, renderItem: proteinLineRender('#d3d3dc', 2), z: 1 },
        { type: 'custom', xAxisIndex: 3, yAxisIndex: 3, data: domainData(metDomains), encode: { x: [1, 2], y: 0 }, renderItem: domainRender(4, 18), z: 2 },
      ],
      graphic,
    };
    chart.setOption(option);
    return () => chart.dispose();
  }, []);

  return <div ref={ref} style={{ position: 'absolute', left: 0, top: 0, width: 1945, height: 1717, background: '#fff' }} />;
}
